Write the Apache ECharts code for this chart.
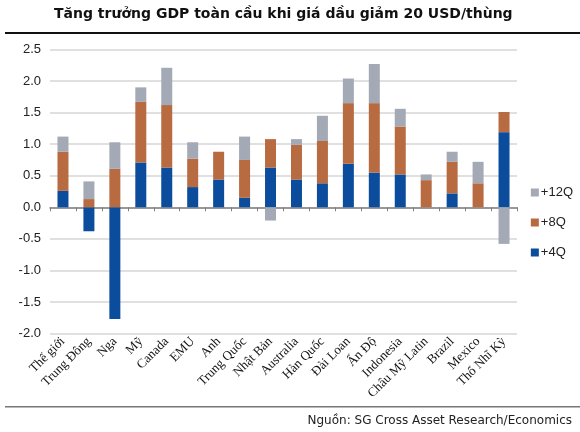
<!DOCTYPE html>
<html><head><meta charset="utf-8">
<script src="https://cdn.jsdelivr.net/npm/echarts@6/dist/echarts.min.js"></script>
<style>html,body{margin:0;padding:0;background:#fff}#c{width:580px;height:432px}</style>
</head><body><div id="c"></div>
<script>
const categories = ['Thế giới','Trung Đông','Nga','Mỹ','Canada','EMU','Anh','Trung Quốc','Nhật Bản','Australia','Hàn Quốc','Đài Loan','Ấn Độ','Indonesia','Châu Mỹ Latin','Brazil','Mexico','Thổ Nhĩ Kỳ'];
const q4  = [0.26,-0.38,-1.77,0.71,0.63,0.32,0.44,0.15,0.63,0.44,0.38,0.69,0.55,0.52,0,0.22,0,1.19];
const q8  = [0.62,0.13,0.61,0.96,0.99,0.45,0.44,0.60,0.45,0.55,0.67,0.96,1.10,0.76,0.43,0.50,0.38,0.32];
const q12 = [0.24,0.28,0.42,0.23,0.59,0.26,0,0.37,-0.21,0.09,0.40,0.39,0.62,0.28,0.09,0.16,0.34,-0.58];
const yTicks = {min:-2, max:2.5, interval:0.5};
const titleText = 'Tăng trưởng GDP toàn cầu khi giá dầu giảm 20 USD/thùng';
const sourceText = 'Nguồn: SG Cross Asset Research/Economics';

const chart = echarts.init(document.getElementById('c'), null, {renderer:'canvas'});
const mk = (name, data, color) => ({
  name, type:'bar', stack:'a', data, barWidth:11, xAxisIndex:0,
  itemStyle:{color}, emphasis:{disabled:true}
});
chart.setOption({
  animation:false,
  title:{text:titleText, left:49, top:2,
    textStyle:{fontFamily:'DejaVu Sans', fontWeight:'bold', fontSize:14, color:'#111'}},
  graphic:[
    {type:'rect', shape:{x:5,y:32,width:575,height:2}, style:{fill:'#111'}},
    {type:'rect', shape:{x:5,y:406,width:575,height:1.5}, style:{fill:'#777'}},
    {type:'text', right:8, top:415, style:{text:sourceText, font:'12px "DejaVu Sans"', fill:'#222'}}
  ],
  legend:{orient:'vertical', right:2, top:181, itemWidth:8, itemHeight:8, itemGap:17,
    icon:'rect', data:['+12Q','+8Q','+4Q'],
    textStyle:{fontFamily:'Liberation Sans', fontSize:13, color:'#222', padding:[0,0,0,-3]}},
  grid:{left:50, right:63, top:49.5, bottom:98.5, containLabel:false},
  xAxis:[
    {type:'category', data:categories, boundaryGap:true,
     axisLine:{onZero:true, lineStyle:{color:'#808080', width:1.5}},
     axisTick:{show:true, interval:0, length:4, lineStyle:{color:'#808080'}},
     axisLabel:{show:false}, splitLine:{show:false}},
    {type:'category', data:categories, position:'bottom', boundaryGap:true,
     axisLine:{show:false, onZero:false}, axisTick:{show:false},
     axisLabel:{interval:0, rotate:45, margin:6, fontFamily:'Liberation Serif', fontSize:13, color:'#111'}}
  ],
  yAxis:{type:'value', min:yTicks.min, max:yTicks.max, interval:yTicks.interval,
    axisLine:{show:false}, axisTick:{show:false},
    axisLabel:{formatter:v=>v.toFixed(1), fontFamily:'Liberation Sans', fontSize:13, color:'#222', margin:9},
    splitLine:{lineStyle:{color:'#d6d6d6', width:1.5}}},
  series:[
    mk('+4Q', q4, '#0b4c9c'),
    mk('+8Q', q8, '#b86a40'),
    mk('+12Q', q12, '#a3a9b5')
  ]
});
</script></body></html>
